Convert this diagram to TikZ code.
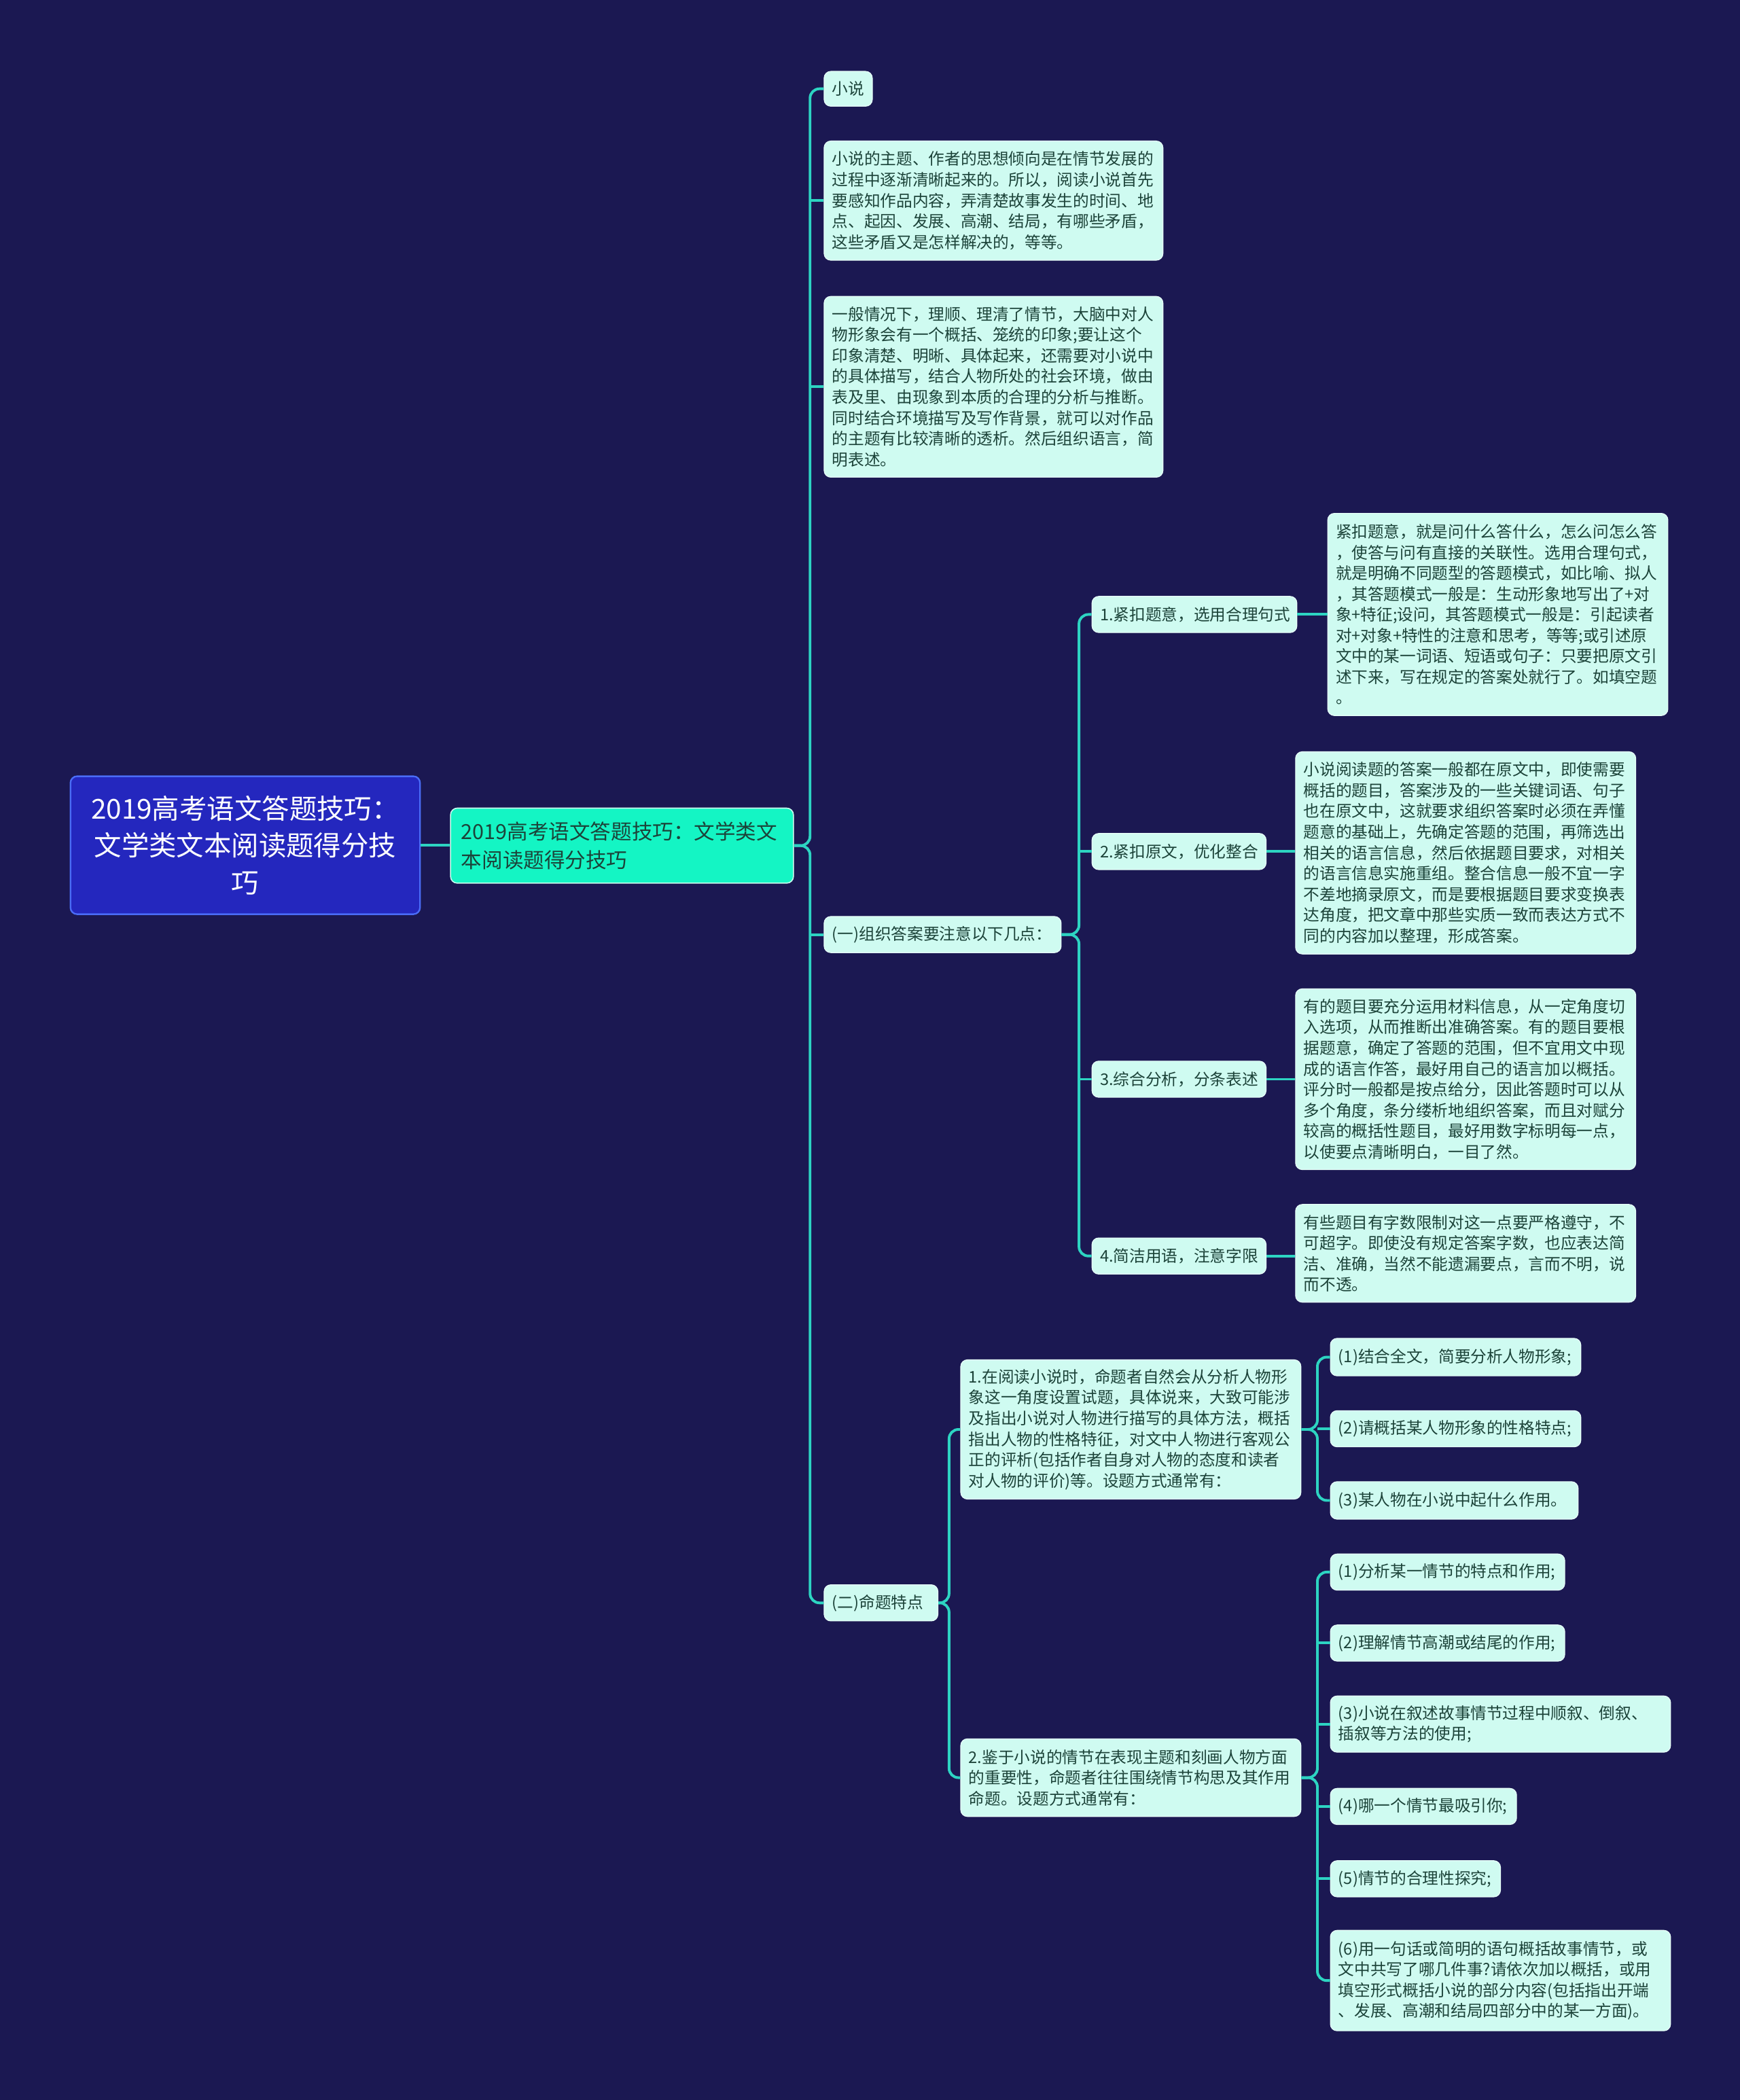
\documentclass[tikz,border=0pt]{standalone}
\usepackage{fontspec}
\setmainfont{Noto Sans CJK SC}
\usetikzlibrary{calc}
\definecolor{bgc}{HTML}{1B1852}
\definecolor{rootfill}{HTML}{2427BE}
\definecolor{rootdraw}{HTML}{4A6CF7}
\definecolor{lonefill}{HTML}{14F5C4}
\definecolor{lonedraw}{HTML}{C8FFF0}
\definecolor{leaffill}{HTML}{CFFBF1}
\definecolor{leafdraw}{HTML}{E8FFF9}
\definecolor{leaftext}{HTML}{1C4339}
\definecolor{connc}{HTML}{2DD4C2}
\tikzset{
  leaf/.style={rounded corners=5pt, fill=leaffill, draw=leafdraw, line width=0.6pt,
    text=leaftext, font=\fontsize{12}{15.5}\selectfont, align=left,
    inner xsep=6pt, inner ysep=0pt, anchor=north west},
  rootn/.style={rounded corners=5pt, fill=rootfill, draw=rootdraw, line width=1.2pt,
    text=white, font=\fontsize{20.5}{27.5}\selectfont, align=center,
    inner xsep=12pt, inner ysep=0pt, anchor=north west},
  lonen/.style={rounded corners=5pt, fill=lonefill, draw=lonedraw, line width=0.8pt,
    text=leaftext, font=\fontsize{15.5}{21}\selectfont, align=left,
    inner xsep=8pt, inner ysep=0pt, anchor=north west},
  conn/.style={draw=connc, line width=2pt, rounded corners=7pt}
}
\newcommand\mnode[7][leaf]{%
  \pgfmathsetmacro\mntw{#5-12}%
  \node[#1, minimum width=#5pt, text width=\mntw pt, minimum height=#6pt] (#2) at (#3,#4) {#7};}
\begin{document}
\begin{tikzpicture}[x=1pt,y=-1pt]
\fill[bgc] (0,0) rectangle (1299,1568);
\useasboundingbox (0,0) rectangle (1299,1568);

% root and level 1
\node[rootn, minimum width=261pt, minimum height=103pt, text width=237pt] (root) at (52,579)
  {2019高考语文答题技巧：\\文学类文本阅读题得分技\\巧};
\node[lonen, minimum width=256pt, minimum height=56pt, text width=240pt] (L1) at (336,603)
  {2019高考语文答题技巧：文学类文\\本阅读题得分技巧};

% level 2
\mnode{xs}{615}{53}{36}{26}{小说}
\mnode{ta}{615}{105}{253}{89}{小说的主题、作者的思想倾向是在情节发展的\\
过程中逐渐清晰起来的。所以，阅读小说首先\\
要感知作品内容，弄清楚故事发生的时间、地\\
点、起因、发展、高潮、结局，有哪些矛盾，\\
这些矛盾又是怎样解决的，等等。}
\mnode{tb}{615}{221}{253}{135}{一般情况下，理顺、理清了情节，大脑中对人\\
物形象会有一个概括、笼统的印象;要让这个\\
印象清楚、明晰、具体起来，还需要对小说中\\
的具体描写，结合人物所处的社会环境，做由\\
表及里、由现象到本质的合理的分析与推断。\\
同时结合环境描写及写作背景，就可以对作品\\
的主题有比较清晰的透析。然后组织语言，简\\
明表述。}
\mnode{g1}{615}{684}{177}{27}{(一)组织答案要注意以下几点：}
\mnode{g2}{615}{1183}{85}{27}{(二)命题特点}

% group one
\mnode{a1}{815}{445}{153}{27}{1.紧扣题意，选用合理句式}
\mnode{a1t}{991}{383}{254}{151}{紧扣题意，就是问什么答什么，怎么问怎么答\\
，使答与问有直接的关联性。选用合理句式，\\
就是明确不同题型的答题模式，如比喻、拟人\\
，其答题模式一般是：生动形象地写出了+对\\
象+特征;设问，其答题模式一般是：引起读者\\
对+对象+特性的注意和思考，等等;或引述原\\
文中的某一词语、短语或句子：只要把原文引\\
述下来，写在规定的答案处就行了。如填空题\\
。}
\mnode{a2}{815}{622}{130}{27}{2.紧扣原文，优化整合}
\mnode{a2t}{967}{561}{254}{151}{小说阅读题的答案一般都在原文中，即使需要\\
概括的题目，答案涉及的一些关键词语、句子\\
也在原文中，这就要求组织答案时必须在弄懂\\
题意的基础上，先确定答题的范围，再筛选出\\
相关的语言信息，然后依据题目要求，对相关\\
的语言信息实施重组。整合信息一般不宜一字\\
不差地摘录原文，而是要根据题目要求变换表\\
达角度，把文章中那些实质一致而表达方式不\\
同的内容加以整理，形成答案。}
\mnode{a3}{815}{792}{130}{27}{3.综合分析，分条表述}
\mnode{a3t}{967}{738}{254}{135}{有的题目要充分运用材料信息，从一定角度切\\
入选项，从而推断出准确答案。有的题目要根\\
据题意，确定了答题的范围，但不宜用文中现\\
成的语言作答，最好用自己的语言加以概括。\\
评分时一般都是按点给分，因此答题时可以从\\
多个角度，条分缕析地组织答案，而且对赋分\\
较高的概括性题目，最好用数字标明每一点，\\
以使要点清晰明白，一目了然。}
\mnode{a4}{815}{924}{130}{27}{4.简洁用语，注意字限}
\mnode{a4t}{967}{899}{254}{73}{有些题目有字数限制对这一点要严格遵守，不\\
可超字。即使没有规定答案字数，也应表达简\\
洁、准确，当然不能遗漏要点，言而不明，说\\
而不透。}

% group two
\mnode{b1}{717}{1015}{254}{104}{1.在阅读小说时，命题者自然会从分析人物形\\
象这一角度设置试题，具体说来，大致可能涉\\
及指出小说对人物进行描写的具体方法，概括\\
指出人物的性格特征，对文中人物进行客观公\\
正的评析(包括作者自身对人物的态度和读者\\
对人物的评价)等。设题方式通常有：}
\mnode{b1a}{993}{999}{187}{28}{(1)结合全文，简要分析人物形象;}
\mnode{b1b}{993}{1053}{187}{27}{(2)请概括某人物形象的性格特点;}
\mnode{b1c}{993}{1106}{185}{28}{(3)某人物在小说中起什么作用。}
\mnode{b2}{717}{1298}{254}{58}{2.鉴于小说的情节在表现主题和刻画人物方面\\
的重要性，命题者往往围绕情节构思及其作用\\
命题。设题方式通常有：}
\mnode{b2a}{993}{1160}{175}{27}{(1)分析某一情节的特点和作用;}
\mnode{b2b}{993}{1213}{175}{27}{(2)理解情节高潮或结尾的作用;}
\mnode{b2c}{993}{1266}{254}{42}{(3)小说在叙述故事情节过程中顺叙、倒叙、\\
插叙等方法的使用;}
\mnode{b2d}{993}{1335}{139}{27}{(4)哪一个情节最吸引你;}
\mnode{b2e}{993}{1389}{127}{27}{(5)情节的合理性探究;}
\mnode{b2f}{993}{1441}{254}{75}{(6)用一句话或简明的语句概括故事情节，或\\
文中共写了哪几件事?请依次加以概括，或用\\
填空形式概括小说的部分内容(包括指出开端\\
、发展、高潮和结局四部分中的某一方面)。}

% connectors
\draw[conn] (root.east) -- (root.east -| L1.west);

\coordinate (t1) at ($(L1.east)+(12,0)$);
\draw[conn] (L1.east) -- (t1) |- (xs.west);
\draw[conn] (L1.east) -- (t1) |- (g2.west);
\draw[conn] (ta.west -| t1) -- (ta.west);
\draw[conn] (tb.west -| t1) -- (tb.west);
\draw[conn] (g1.west -| t1) -- (g1.west);

\coordinate (t2) at ($(g1.east)+(13,0)$);
\draw[conn] (g1.east) -- (t2) |- (a1.west);
\draw[conn] (g1.east) -- (t2) |- (a4.west);
\draw[conn] (a2.west -| t2) -- (a2.west);
\draw[conn] (a3.west -| t2) -- (a3.west);
\draw[conn] (a1.east) -- (a1.east -| a1t.west);
\draw[conn] (a2.east) -- (a2.east -| a2t.west);
\draw[conn] (a3.east) -- (a3.east -| a3t.west);
\draw[conn] (a4.east) -- (a4.east -| a4t.west);

\coordinate (t3) at ($(g2.east)+(8,0)$);
\draw[conn] (g2.east) -- (t3) |- (b1.west);
\draw[conn] (g2.east) -- (t3) |- (b2.west);

\coordinate (t4) at ($(b1.east)+(12,0)$);
\draw[conn] (b1.east) -- (t4) |- (b1a.west);
\draw[conn] (b1.east) -- (t4) |- (b1c.west);
\draw[conn] (b1b.west -| t4) -- (b1b.west);

\coordinate (t5) at ($(b2.east)+(12,0)$);
\draw[conn] (b2.east) -- (t5) |- (b2a.west);
\draw[conn] (b2.east) -- (t5) |- (b2f.west);
\draw[conn] (b2b.west -| t5) -- (b2b.west);
\draw[conn] (b2c.west -| t5) -- (b2c.west);
\draw[conn] (b2d.west -| t5) -- (b2d.west);
\draw[conn] (b2e.west -| t5) -- (b2e.west);
\end{tikzpicture}
\end{document}
